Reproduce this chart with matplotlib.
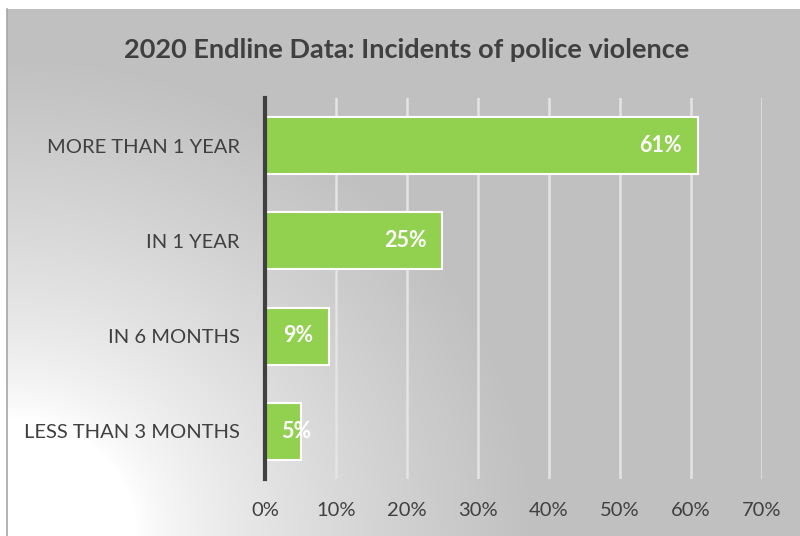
import numpy as np
import matplotlib
matplotlib.use("Agg")
import matplotlib.pyplot as plt
from matplotlib.ticker import PercentFormatter

categories = ["MORE THAN 1 YEAR", "IN 1 YEAR", "IN 6 MONTHS", "LESS THAN 3 MONTHS"]
values = [61, 25, 9, 5]
labels = ["61%", "25%", "9%", "5%"]
xticks = [0, 10, 20, 30, 40, 50, 60, 70]

plt.rcParams['font.family'] = ['Lato', 'DejaVu Sans']

W, H = 800, 536
fig = plt.figure(figsize=(W/100, H/100), dpi=100)

# background gradient panel (radial from bottom-left corner)
bx0 = 7/W
bw_px, bh_px = W - 7, H - 9
bg = fig.add_axes([bx0, 0, 1 - bx0, bh_px/H], zorder=0)
ny, nx = 264, 400
yy, xx = np.mgrid[0:bh_px:ny*1j, 0:bw_px:nx*1j]
d = np.sqrt(xx**2 + (yy*1.1)**2)
t = np.clip((d - 130) / 400, 0, 1) ** 0.75
lo, hi = 1.0, 0.753
g = lo + (hi - lo) * t
img = np.dstack([g, g, g])
bg.imshow(img, origin='lower', extent=[0, 1, 0, 1], aspect='auto', interpolation='bilinear')
bg.set_xlim(0, 1); bg.set_ylim(0, 1)
bg.set_xticks([]); bg.set_yticks([])
for s in ['top', 'right', 'bottom']:
    bg.spines[s].set_visible(False)
bg.spines['left'].set_color('#a6a6a6')
bg.spines['left'].set_linewidth(1.2)

ax = fig.add_axes([265/W, 1 - 478.5/H, (762 - 265)/W, (478.5 - 98.5)/H], zorder=1)
ax.patch.set_alpha(0)
y = np.arange(len(categories))
ax.barh(y, values, height=0.6, color='#92d050', edgecolor='white', linewidth=1.5, zorder=3)
for yi, v, lab in zip(y, values, labels):
    if v >= 8:
        ax.annotate(lab, (v, yi), xytext=(-11.5, 0), textcoords='offset points',
                    ha='right', va='center', color='white', fontsize=15.5,
                    fontweight='bold', zorder=4)
    else:
        ax.annotate(lab, (0, yi), xytext=(11.5, 0), textcoords='offset points',
                    ha='left', va='center', color='white', fontsize=15.5,
                    fontweight='bold', zorder=4)
ax.set_xlim(0, 70)
ax.set_ylim(len(categories) - 0.5, -0.5)
ax.set_xticks(xticks)
ax.xaxis.set_major_formatter(PercentFormatter(decimals=0))
ax.set_yticks(y)
ax.set_yticklabels(categories)
ax.tick_params(axis='both', length=0, labelsize=14.5, colors='#404040')
ax.tick_params(axis='x', pad=17)
ax.tick_params(axis='y', pad=18)
ax.grid(axis='x', color='#e4e4e4', linewidth=1.8, zorder=1)
ax.set_axisbelow(True)
for s in ['top', 'right', 'bottom']:
    ax.spines[s].set_visible(False)
ax.spines['left'].set_color('#404040')
ax.spines['left'].set_linewidth(3)
ax.spines['left'].set_zorder(5)

fig.text(407/W, 1 - 50/H, "2020 Endline Data: Incidents of police violence",
         ha='center', va='center', fontsize=19.5, fontweight='bold', color='#404040')

fig.savefig("out.png", dpi=100)
